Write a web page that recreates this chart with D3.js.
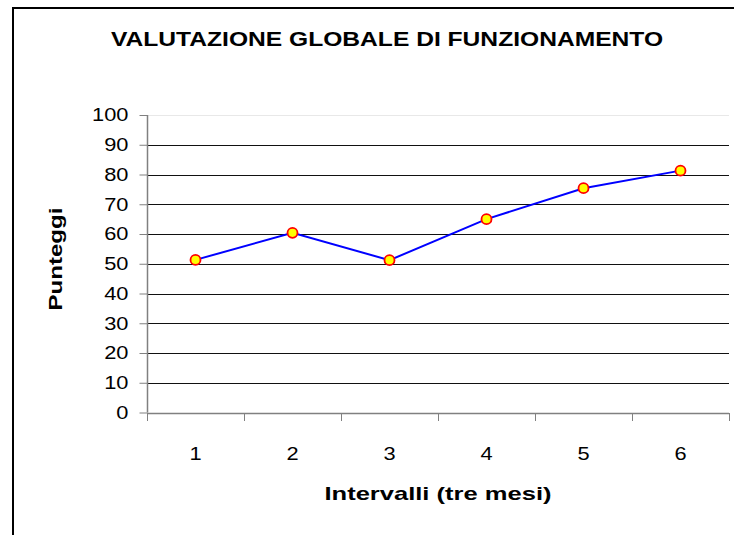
<!DOCTYPE html>
<html><head><meta charset="utf-8">
<script src="https://cdn.jsdelivr.net/npm/d3@7"></script>
<style>body{margin:0;background:#fff}svg{display:block}text{font-family:"Liberation Sans",Arial,sans-serif}</style>
</head><body><svg width="734" height="535"></svg>
<script>
const categories = ["1","2","3","4","5","6"];
const values = [51.3, 60.4, 51.2, 65.0, 75.4, 81.3];
const yTicks = [0,10,20,30,40,50,60,70,80,90,100];
const title = "VALUTAZIONE GLOBALE DI FUNZIONAMENTO";
const xTitle = "Intervalli (tre mesi)";
const yTitle = "Punteggi";

const svg = d3.select("svg");
function stretch(sel, f){
  sel.each(function(){
    const w = this.getComputedTextLength();
    d3.select(this).attr("textLength", w*f).attr("lengthAdjust","spacingAndGlyphs");
  });
}
svg.append("rect").attr("x",13).attr("y",8).attr("width",740).attr("height",540)
  .attr("fill","none").attr("stroke","#000").attr("stroke-width",2);

const L=147, R=729, T=115, B=412.5;
const x = d3.scaleBand().domain(categories).range([L,R]);
const y = d3.scaleLinear().domain([0,100]).range([B,T]);

// gridlines
svg.append("g").selectAll("line").data(yTicks.filter(d=>d>0)).join("line")
  .attr("x1",L).attr("x2",R).attr("y1",d=>Math.round(y(d))+0.5).attr("y2",d=>Math.round(y(d))+0.5)
  .attr("stroke",d=>d===100?"#e8e8e8":"#111").attr("stroke-width",1.2);

// y axis
const ya = svg.append("g").attr("transform",`translate(${L+0.5},0)`)
  .call(d3.axisLeft(y).tickValues(yTicks).tickSize(8).tickPadding(11));
ya.select(".domain").attr("stroke","#808080").attr("stroke-width",1.5).attr("d",`M0,${T}V${B}`);
ya.selectAll(".tick line").attr("stroke","#808080");
ya.selectAll("text").attr("font-size",18.5).attr("fill","#000").attr("font-family","Liberation Sans, Arial, sans-serif").call(stretch,1.18);

// x axis
const xa = svg.append("g").attr("transform",`translate(0,${Math.round(B)+0.5})`)
  .call(d3.axisBottom(x).tickSize(0).tickPadding(33));
xa.select(".domain").attr("stroke","#808080").attr("stroke-width",1.5).attr("d",`M${L},0H${R}`);
xa.selectAll("text").attr("font-size",18.5).attr("fill","#000").attr("font-family","Liberation Sans, Arial, sans-serif").call(stretch,1.18);
// category separator ticks
svg.append("g").selectAll("line").data(categories.concat(["end"])).join("line")
  .attr("x1",(d,i)=>Math.round(L + i*x.bandwidth())+0.5)
  .attr("x2",(d,i)=>Math.round(L + i*x.bandwidth())+0.5)
  .attr("y1",Math.round(B)).attr("y2",Math.round(B)+8)
  .attr("stroke","#808080");

// line
const line = d3.line().x((d,i)=>x(categories[i])+x.bandwidth()/2).y(d=>y(d));
svg.append("path").datum(values).attr("d",line).attr("fill","none").attr("stroke","#0000ff").attr("stroke-width",2);
svg.append("g").selectAll("circle").data(values).join("circle")
  .attr("cx",(d,i)=>x(categories[i])+x.bandwidth()/2).attr("cy",d=>y(d)).attr("r",5)
  .attr("fill","#ffff00").attr("stroke","#ff0000").attr("stroke-width",1.8);

// titles
svg.append("text").attr("x",387).attr("y",46).attr("text-anchor","middle")
  .attr("font-size",20.5).attr("font-weight","bold").text(title).call(stretch,1.2);
svg.append("text").attr("x",438).attr("y",500).attr("text-anchor","middle")
  .attr("font-size",18.5).attr("font-weight","bold").text(xTitle).call(stretch,1.38);
svg.append("text").attr("transform","translate(62,259) rotate(-90)").attr("text-anchor","middle")
  .attr("font-size",18.5).attr("font-weight","bold").text(yTitle).call(stretch,1.3);
</script></body></html>
